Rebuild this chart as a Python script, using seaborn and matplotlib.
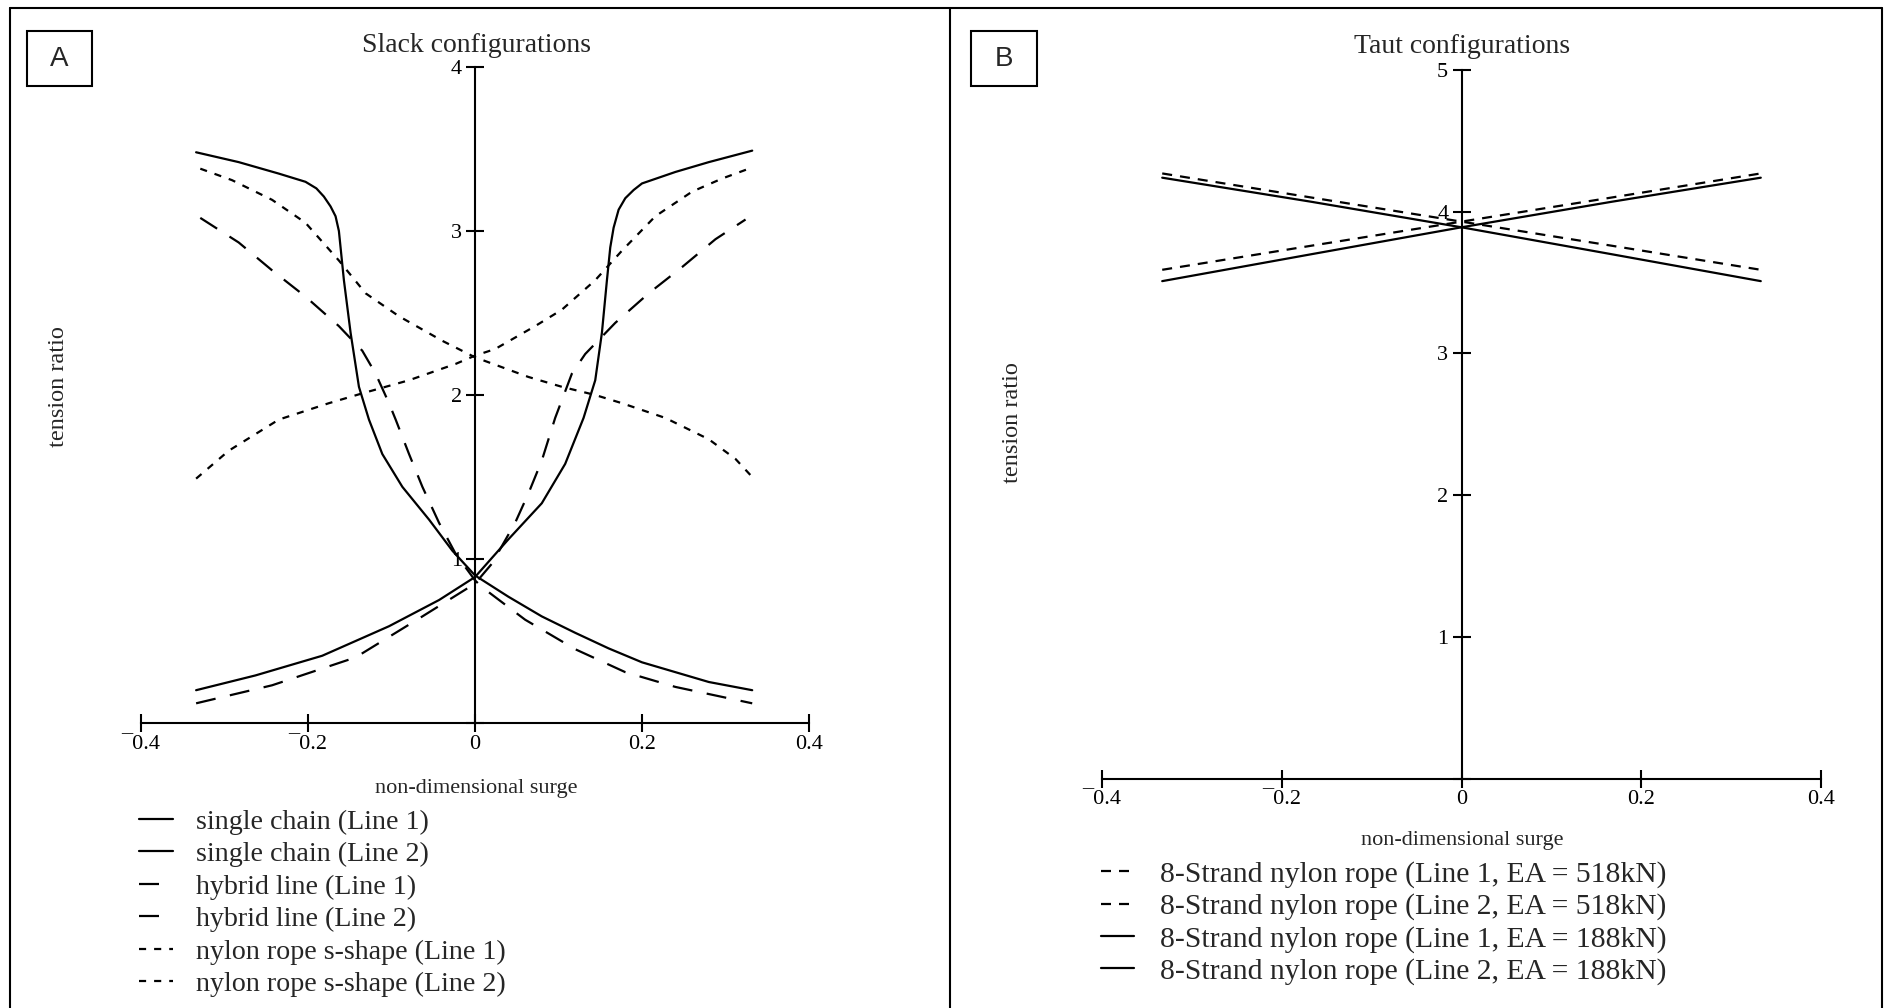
import matplotlib
matplotlib.use("Agg")
import matplotlib.pyplot as plt
from matplotlib.patches import Rectangle
from matplotlib.lines import Line2D
import seaborn as sns

# ---- Panel A: slack configurations ----
chain1_x = [-0.334, -0.283, -0.235, -0.203, -0.19, -0.181, -0.173, -0.167, -0.163, -0.161, -0.157,
            -0.149, -0.139, -0.127, -0.111, -0.087, -0.055, -0.027, 0.0, 0.04, 0.08, 0.12, 0.16,
            0.2, 0.24, 0.28, 0.332]
chain1_y = [3.48, 3.42, 3.35, 3.30, 3.26, 3.21, 3.15, 3.09, 3.00, 2.90, 2.70,
            2.38, 2.05, 1.85, 1.64, 1.44, 1.24, 1.05, 0.90, 0.77, 0.65, 0.55, 0.455,
            0.37, 0.31, 0.25, 0.20]
chain2_x = [-0.334, -0.263, -0.183, -0.103, -0.043, 0.0, 0.04, 0.08, 0.108, 0.13,
            0.144, 0.152, 0.158, 0.162, 0.166, 0.172, 0.18, 0.19, 0.2, 0.24, 0.28, 0.332]
chain2_y = [0.20, 0.29, 0.41, 0.59, 0.75, 0.89, 1.12, 1.34, 1.58, 1.86,
            2.09, 2.38, 2.70, 2.90, 3.02, 3.13, 3.20, 3.25, 3.29, 3.36, 3.42, 3.49]

hybrid1_x = [-0.329, -0.283, -0.243, -0.203, -0.163, -0.135, -0.119, -0.103, -0.095, -0.079,
             -0.063, -0.043, -0.023, 0.0, 0.008, 0.06, 0.12, 0.18, 0.24, 0.332]
hybrid1_y = [3.08, 2.93, 2.76, 2.60, 2.42, 2.27, 2.13, 1.95, 1.85, 1.64,
             1.44, 1.22, 1.03, 0.87, 0.83, 0.63, 0.45, 0.31, 0.22, 0.12]
hybrid2_x = [-0.334, -0.243, -0.143, -0.063, 0.0, 0.02, 0.048, 0.064, 0.08, 0.096,
             0.116, 0.132, 0.168, 0.208, 0.248, 0.288, 0.324]
hybrid2_y = [0.12, 0.23, 0.40, 0.65, 0.85, 0.97, 1.22, 1.40, 1.60, 1.86,
             2.13, 2.25, 2.44, 2.62, 2.78, 2.95, 3.07]

nylon1_x = [-0.329, -0.291, -0.243, -0.203, -0.163, -0.131, -0.091, -0.039, 0.0,
            0.064, 0.104, 0.144, 0.176, 0.228, 0.28, 0.312, 0.332]
nylon1_y = [3.38, 3.31, 3.19, 3.05, 2.82, 2.62, 2.48, 2.33, 2.23,
            2.11, 2.05, 2.00, 1.95, 1.86, 1.73, 1.61, 1.50]
nylon2_x = [-0.334, -0.295, -0.235, -0.175, -0.135, -0.079, -0.023, 0.0,
            0.024, 0.072, 0.104, 0.144, 0.176, 0.216, 0.26, 0.296, 0.328]
nylon2_y = [1.49, 1.66, 1.85, 1.95, 2.01, 2.09, 2.19, 2.24,
            2.28, 2.42, 2.52, 2.70, 2.88, 3.09, 3.24, 3.32, 3.38]

labels_a = ["single chain (Line 1)", "single chain (Line 2)",
            "hybrid line (Line 1)", "hybrid line (Line 2)",
            "nylon rope s-shape (Line 1)", "nylon rope s-shape (Line 2)"]

# ---- Panel B: taut configurations ----
taut_x = [-0.333, -0.167, 0.0, 0.167, 0.333]
ea518_line1 = [3.59, 3.76, 3.93, 4.10, 4.27]
ea518_line2 = [4.27, 4.10, 3.93, 3.76, 3.59]
ea188_line1 = [3.51, 3.70, 3.89, 4.07, 4.24]
ea188_line2 = [4.24, 4.07, 3.89, 3.70, 3.51]

labels_b = ["8-Strand nylon rope (Line 1, EA = 518kN)", "8-Strand nylon rope (Line 2, EA = 518kN)",
            "8-Strand nylon rope (Line 1, EA = 188kN)", "8-Strand nylon rope (Line 2, EA = 188kN)"]

x_ticks = [-0.4, -0.2, 0, 0.2, 0.4]
x_ticklabels = ["\u00af0.4", "\u00af0.2", "0", "0.2", "0.4"]

sns.set_theme(style="ticks")
plt.rcParams["font.family"] = ["Liberation Serif", "DejaVu Serif"]

W, H = 1885, 1008
fig = plt.figure(figsize=(W / 100, H / 100), dpi=100)


def fx(px):
    return px / W


def fy(py):
    return 1 - py / H


solid = "-"
long_dash = (0, (9, 6.6))
short_dash = (0, (3.2, 3.6))
b_dash = (0, (4.5, 3.6))
lw = 1.6


def style_axes(ax, ymax):
    ax.set_xlim(-0.4, 0.4)
    ax.set_ylim(0, ymax)
    ax.spines["left"].set_position(("data", 0))
    ax.spines["bottom"].set_position(("data", 0))
    ax.spines["top"].set_visible(False)
    ax.spines["right"].set_visible(False)
    for s in ["left", "bottom"]:
        ax.spines[s].set_linewidth(1.5)
        ax.spines[s].set_color("black")
    ax.set_xticks(x_ticks)
    ax.set_xticklabels(x_ticklabels)
    yt = list(range(0, ymax + 1))
    ax.set_yticks(yt)
    ax.set_yticklabels([""] + [str(v) for v in yt[1:]])
    ax.tick_params(direction="inout", length=13, width=1.5, colors="black", labelsize=16,
                   bottom=True, left=True)
    ax.tick_params(axis="x", pad=2)
    ax.tick_params(axis="y", pad=3)
    ax.patch.set_alpha(0)
    ax.set_xlabel("")
    ax.set_ylabel("")


# Panel A
ax_a = fig.add_axes([fx(141), fy(723), (809 - 141) / W, (723 - 67) / H])
series_a = [(chain1_x, chain1_y, solid), (chain2_x, chain2_y, solid),
            (hybrid1_x, hybrid1_y, long_dash), (hybrid2_x, hybrid2_y, long_dash),
            (nylon1_x, nylon1_y, short_dash), (nylon2_x, nylon2_y, short_dash)]
for (xs, ys, ls), lab in zip(series_a, labels_a):
    sns.lineplot(x=xs, y=ys, ax=ax_a, color="black", linewidth=lw, linestyle=ls, label=lab)
handles_a, _ = ax_a.get_legend_handles_labels()
if ax_a.get_legend():
    ax_a.get_legend().remove()
style_axes(ax_a, 4)

# Panel B
ax_b = fig.add_axes([fx(1102), fy(778.5), (1821 - 1102) / W, (778.5 - 70) / H])
series_b = [(ea518_line1, b_dash), (ea518_line2, b_dash), (ea188_line1, solid), (ea188_line2, solid)]
for (ys, ls), lab in zip(series_b, labels_b):
    sns.lineplot(x=taut_x, y=ys, ax=ax_b, color="black", linewidth=lw, linestyle=ls, label=lab)
handles_b, _ = ax_b.get_legend_handles_labels()
if ax_b.get_legend():
    ax_b.get_legend().remove()
style_axes(ax_b, 5)

# titles and axis labels
fig.text(fx(476), fy(52), "Slack configurations", ha="center", va="baseline", fontsize=20)
fig.text(fx(1462), fy(53), "Taut configurations", ha="center", va="baseline", fontsize=20)
fig.text(fx(476), fy(788), "non-dimensional surge", ha="center", va="center", fontsize=16)
fig.text(fx(1462), fy(840), "non-dimensional surge", ha="center", va="center", fontsize=16)
fig.text(fx(58), fy(387), "tension ratio", ha="center", va="center", rotation=90, fontsize=17.5)
fig.text(fx(1013), fy(423), "tension ratio", ha="center", va="center", rotation=90, fontsize=17.5)

# legends
leg_kw = dict(loc="upper left", frameon=False, borderpad=0, borderaxespad=0)
fig.legend(handles_a, labels_a, bbox_to_anchor=(fx(139), fy(809)), fontsize=20.2,
           handlelength=1.2, handletextpad=0.82, labelspacing=0.245, **leg_kw)
fig.legend(handles_b, labels_b, bbox_to_anchor=(fx(1101), fy(861)), fontsize=21.3,
           handlelength=1.1, handletextpad=0.9, labelspacing=0.18, **leg_kw)

# panel frames
for xs_, ys_ in [([10, 1882], [8, 8]), ([10, 10], [8, H]), ([950, 950], [8, H]), ([1882, 1882], [8, H])]:
    fig.add_artist(Line2D([fx(v) for v in xs_], [fy(v) for v in ys_], color="black", lw=1.5))

# panel letter boxes
for (x0, x1, letter) in [(27, 92, "A"), (971, 1037, "B")]:
    fig.add_artist(Rectangle((fx(x0), fy(86)), (x1 - x0) / W, 55 / H, transform=fig.transFigure,
                             fill=False, edgecolor="black", lw=1.5))
    fig.text(fx((x0 + x1) / 2), fy(58.5), letter, ha="center", va="center", fontsize=20,
             family="Liberation Sans")

fig.savefig("out.png", dpi=100)
